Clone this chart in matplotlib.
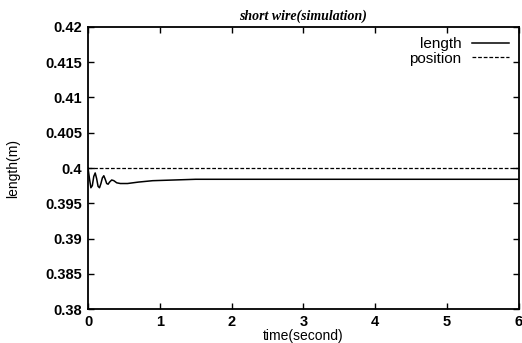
import matplotlib
matplotlib.use("Agg")
import matplotlib.pyplot as plt

time_s = [0.0, 0.02, 0.04, 0.06, 0.08, 0.10, 0.12, 0.14, 0.16, 0.18, 0.20, 0.22,
          0.24, 0.26, 0.28, 0.30, 0.33, 0.36, 0.40, 0.45, 0.55, 0.7, 0.9, 1.2,
          1.5, 2.0, 3.0, 4.0, 5.0, 6.0]
length_m = [0.4000, 0.3985, 0.3972, 0.3975, 0.3988, 0.3993, 0.3985, 0.3974, 0.3972,
            0.3978, 0.3986, 0.3989, 0.3984, 0.3978, 0.3977, 0.3980, 0.3983, 0.3982,
            0.3979, 0.3978, 0.3978, 0.3980, 0.3982, 0.3983, 0.3984, 0.3984, 0.3984,
            0.3984, 0.3984, 0.3984]
position_t = [0.0, 6.0]
position_m = [0.4, 0.4]

xticks = [0, 1, 2, 3, 4, 5, 6]
yticks = [0.38, 0.385, 0.39, 0.395, 0.4, 0.405, 0.41, 0.415, 0.42]
ytick_labels = ["0.38", "0.385", "0.39", "0.395", "0.4", "0.405", "0.41", "0.415", "0.42"]

plt.rcParams['font.family'] = ['Liberation Sans', 'DejaVu Sans']

fig = plt.figure(figsize=(5.22, 3.43), dpi=100)
ax = fig.add_axes([0.1686, 0.0991, 0.8254, 0.8222])

ax.plot(time_s, length_m, color='black', lw=1.1, label='length')
ax.plot(position_t, position_m, color='black', lw=0.9, ls=(0, (3, 1.5)), label='position')

ax.set_xlim(0, 6)
ax.set_ylim(0.38, 0.42)
ax.set_xticks(xticks)
ax.set_xticklabels([str(v) for v in xticks])
ax.set_yticks(yticks)
ax.set_yticklabels(ytick_labels)

ax.tick_params(direction='in', length=4, width=1, top=True, right=True,
               labelsize=10.5, pad=4)
for lab in ax.get_xticklabels() + ax.get_yticklabels():
    lab.set_fontweight('bold')
for sp in ax.spines.values():
    sp.set_linewidth(1.3)

ax.set_xlabel('time(second)', fontsize=10, labelpad=0)
ax.set_ylabel('length(m)', fontsize=10, labelpad=18)
ax.set_title('short wire(simulation)', fontsize=10, family='Liberation Serif',
             style='italic', fontweight='bold', pad=5)

leg = ax.legend(loc='upper right', frameon=False, markerfirst=False, fontsize=11,
                handlelength=2.4, handletextpad=0.7, labelspacing=0.05,
                borderaxespad=0.25)
for t in leg.get_texts():
    t.set_ha('right')

fig.savefig('out.png', dpi=100)
